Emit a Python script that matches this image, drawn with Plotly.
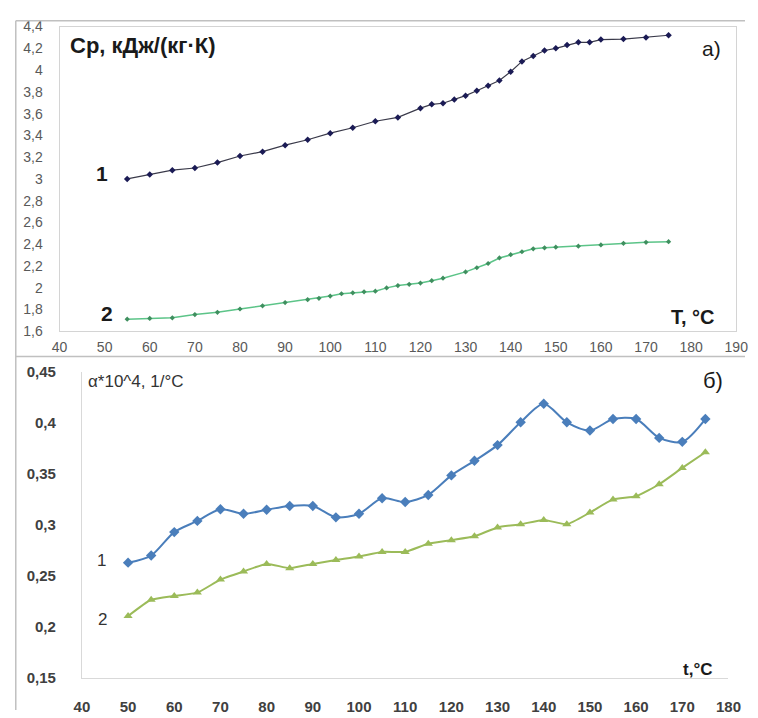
import plotly.graph_objects as go

W, H = 758, 718

# --- a) specific heat capacity Cp vs T ---
cp1_t = [55, 60, 65, 70, 75, 80, 85, 90, 95, 100, 105, 110, 115, 120,
         122.5, 125, 127.5, 130, 132.5, 135, 137.5, 140, 142.5, 145, 147.5,
         150, 152.5, 155, 157.5, 160, 165, 170, 175]
cp1_val = [3.00, 3.04, 3.08, 3.10, 3.15, 3.21, 3.25, 3.31, 3.36, 3.42, 3.47,
           3.53, 3.565, 3.65, 3.685, 3.695, 3.73, 3.765, 3.81, 3.855, 3.905,
           3.985, 4.08, 4.13, 4.18, 4.20, 4.23, 4.255, 4.255, 4.28, 4.285,
           4.30, 4.32]

cp2_t = [55, 60, 65, 70, 75, 80, 85, 90, 95, 97.5, 100, 102.5, 105, 107.5,
         110, 112.5, 115, 117.5, 120, 122.5, 125, 130, 132.5, 135, 137.5,
         140, 142.5, 145, 147.5, 150, 155, 160, 165, 170, 175]
cp2_val = [1.71, 1.717, 1.723, 1.753, 1.773, 1.804, 1.833, 1.863, 1.89, 1.902,
           1.923, 1.944, 1.953, 1.962, 1.968, 1.998, 2.019, 2.031, 2.042,
           2.064, 2.087, 2.145, 2.183, 2.222, 2.273, 2.303, 2.33, 2.357,
           2.366, 2.372, 2.381, 2.393, 2.408, 2.417, 2.423]

top_x_ticks = [40, 50, 60, 70, 80, 90, 100, 110, 120, 130, 140, 150, 160, 170, 180, 190]
top_y_ticks = [1.6, 1.8, 2.0, 2.2, 2.4, 2.6, 2.8, 3.0, 3.2, 3.4, 3.6, 3.8, 4.0, 4.2, 4.4]

# --- б) thermal expansion coefficient alpha vs t ---
al_t = [50, 55, 60, 65, 70, 75, 80, 85, 90, 95, 100, 105, 110, 115, 120, 125,
        130, 135, 140, 145, 150, 155, 160, 165, 170, 175]
al1_val = [0.263, 0.270, 0.293, 0.304, 0.3155, 0.311, 0.315, 0.3187, 0.3187,
           0.3075, 0.311, 0.3263, 0.3225, 0.3295, 0.3487, 0.363, 0.3784,
           0.4008, 0.419, 0.4008, 0.3928, 0.404, 0.404, 0.3855, 0.3816, 0.404]
al2_val = [0.2106, 0.2266, 0.2304, 0.2336, 0.2464, 0.2544, 0.2618, 0.2576,
           0.2618, 0.2656, 0.2691, 0.2736, 0.2736, 0.2816, 0.2851, 0.2889,
           0.2976, 0.3007, 0.305, 0.3007, 0.3122, 0.3251, 0.3282, 0.340,
           0.356, 0.3714]

bot_x_ticks = [40, 50, 60, 70, 80, 90, 100, 110, 120, 130, 140, 150, 160, 170, 180]
bot_y_ticks = [0.15, 0.2, 0.25, 0.3, 0.35, 0.4, 0.45]


def comma(v):
    s = ("%g" % v)
    return s.replace(".", ",")


def px(x):
    return x / W


def py(y):
    return 1 - y / H


FONT = "Liberation Sans, Arial, sans-serif"

fig = go.Figure()

fig.add_trace(go.Scatter(
    x=cp1_t, y=cp1_val, mode="lines+markers", xaxis="x", yaxis="y",
    line=dict(color="#3a3a4a", width=1.2),
    marker=dict(symbol="diamond", size=5, color="#1b1b55"),
    showlegend=False, hoverinfo="x+y"))
fig.add_trace(go.Scatter(
    x=cp2_t, y=cp2_val, mode="lines+markers", xaxis="x", yaxis="y",
    line=dict(color="#5cc488", width=1.5),
    marker=dict(symbol="diamond", size=4, color="#3f8f5f"),
    showlegend=False, hoverinfo="x+y"))

fig.add_trace(go.Scatter(
    x=al_t, y=al1_val, mode="lines+markers", xaxis="x2", yaxis="y2",
    line=dict(color="#4a7ebb", width=2, shape="spline", smoothing=0.8),
    marker=dict(symbol="diamond", size=8, color="#4a7ebb"),
    showlegend=False, hoverinfo="x+y"))
fig.add_trace(go.Scatter(
    x=al_t, y=al2_val, mode="lines+markers", xaxis="x2", yaxis="y2",
    line=dict(color="#9bbb59", width=2, shape="spline", smoothing=0.5),
    marker=dict(symbol="triangle-up", size=8, color="#9bbb59"),
    showlegend=False, hoverinfo="x+y"))

top_tick_font = dict(family=FONT, size=14, color="#595959")
bot_tick_font = dict(family=FONT, size=15, color="#404040", weight="bold")

fig.update_layout(
    width=W, height=H,
    margin=dict(l=0, r=0, t=0, b=0),
    paper_bgcolor="white", plot_bgcolor="white",
    xaxis=dict(
        domain=[px(53), px(749)], range=[40, 190], anchor="y",
        tickvals=top_x_ticks, ticktext=[comma(v) for v in top_x_ticks],
        showgrid=False, zeroline=False, showline=True, mirror=True,
        linecolor="#d4d4d4", linewidth=1, ticks="", tickfont=top_tick_font,
        ticklabelstandoff=3),
    yaxis=dict(
        domain=[py(330), py(18)], range=[1.6, 4.4], anchor="x",
        tickvals=top_y_ticks, ticktext=[comma(v) for v in top_y_ticks],
        showgrid=False, zeroline=False, showline=True, mirror=True,
        linecolor="#d4d4d4", linewidth=1, ticks="", tickfont=top_tick_font,
        ticklabelstandoff=13),
    xaxis2=dict(
        domain=[px(76), px(741)], range=[40, 180], anchor="y2",
        tickvals=bot_x_ticks, ticktext=[comma(v) for v in bot_x_ticks],
        showgrid=False, zeroline=False, showline=True, mirror=False,
        linecolor="#d9d9d9", linewidth=1, ticks="", tickfont=bot_tick_font,
        ticklabelstandoff=15),
    yaxis2=dict(
        domain=[py(685), py(372)], range=[0.15, 0.45], anchor="x2",
        tickvals=bot_y_ticks, ticktext=[comma(v) for v in bot_y_ticks],
        showgrid=False, zeroline=False, showline=True, mirror=False,
        linecolor="#d9d9d9", linewidth=1, ticks="", tickfont=bot_tick_font,
        ticklabelstandoff=22),
)

# outer frame lines around the two panels
frame = "#c0c0c0"
fig.add_shape(type="line", xref="paper", yref="paper",
              x0=px(8), x1=1, y0=py(12), y1=py(12), line=dict(color=frame, width=1.5))
fig.add_shape(type="line", xref="paper", yref="paper",
              x0=px(8), x1=px(8), y0=py(12), y1=0, line=dict(color=frame, width=1.5))
fig.add_shape(type="line", xref="paper", yref="paper",
              x0=px(8), x1=1, y0=py(356), y1=py(356), line=dict(color=frame, width=1.5))


def label(text, cx, cy, size, bold=False, color="#1a1a1a"):
    fig.add_annotation(
        text=text, xref="paper", yref="paper", x=px(cx), y=py(cy),
        xanchor="center", yanchor="middle", showarrow=False,
        font=dict(family=FONT, size=size, color=color,
                  weight="bold" if bold else "normal"))


# panel a) texts
label("Cp, кДж/(кг·К)", 139, 37, 22, bold=True)
label("a)", 724, 40, 21)
label("1", 97, 168, 21, bold=True)
label("2", 102, 312, 21, bold=True)
label("T, °C", 705, 315, 20, bold=True)

# panel б) texts
label("α*10^4, 1/°C", 131, 382, 17, color="#333333")
label("б)", 725, 380, 22)
label("1", 96, 565, 17, color="#333333")
label("2", 97, 625, 17, color="#333333")
label("t,°C", 709, 677, 17, bold=True)

fig.write_html("out.html")
